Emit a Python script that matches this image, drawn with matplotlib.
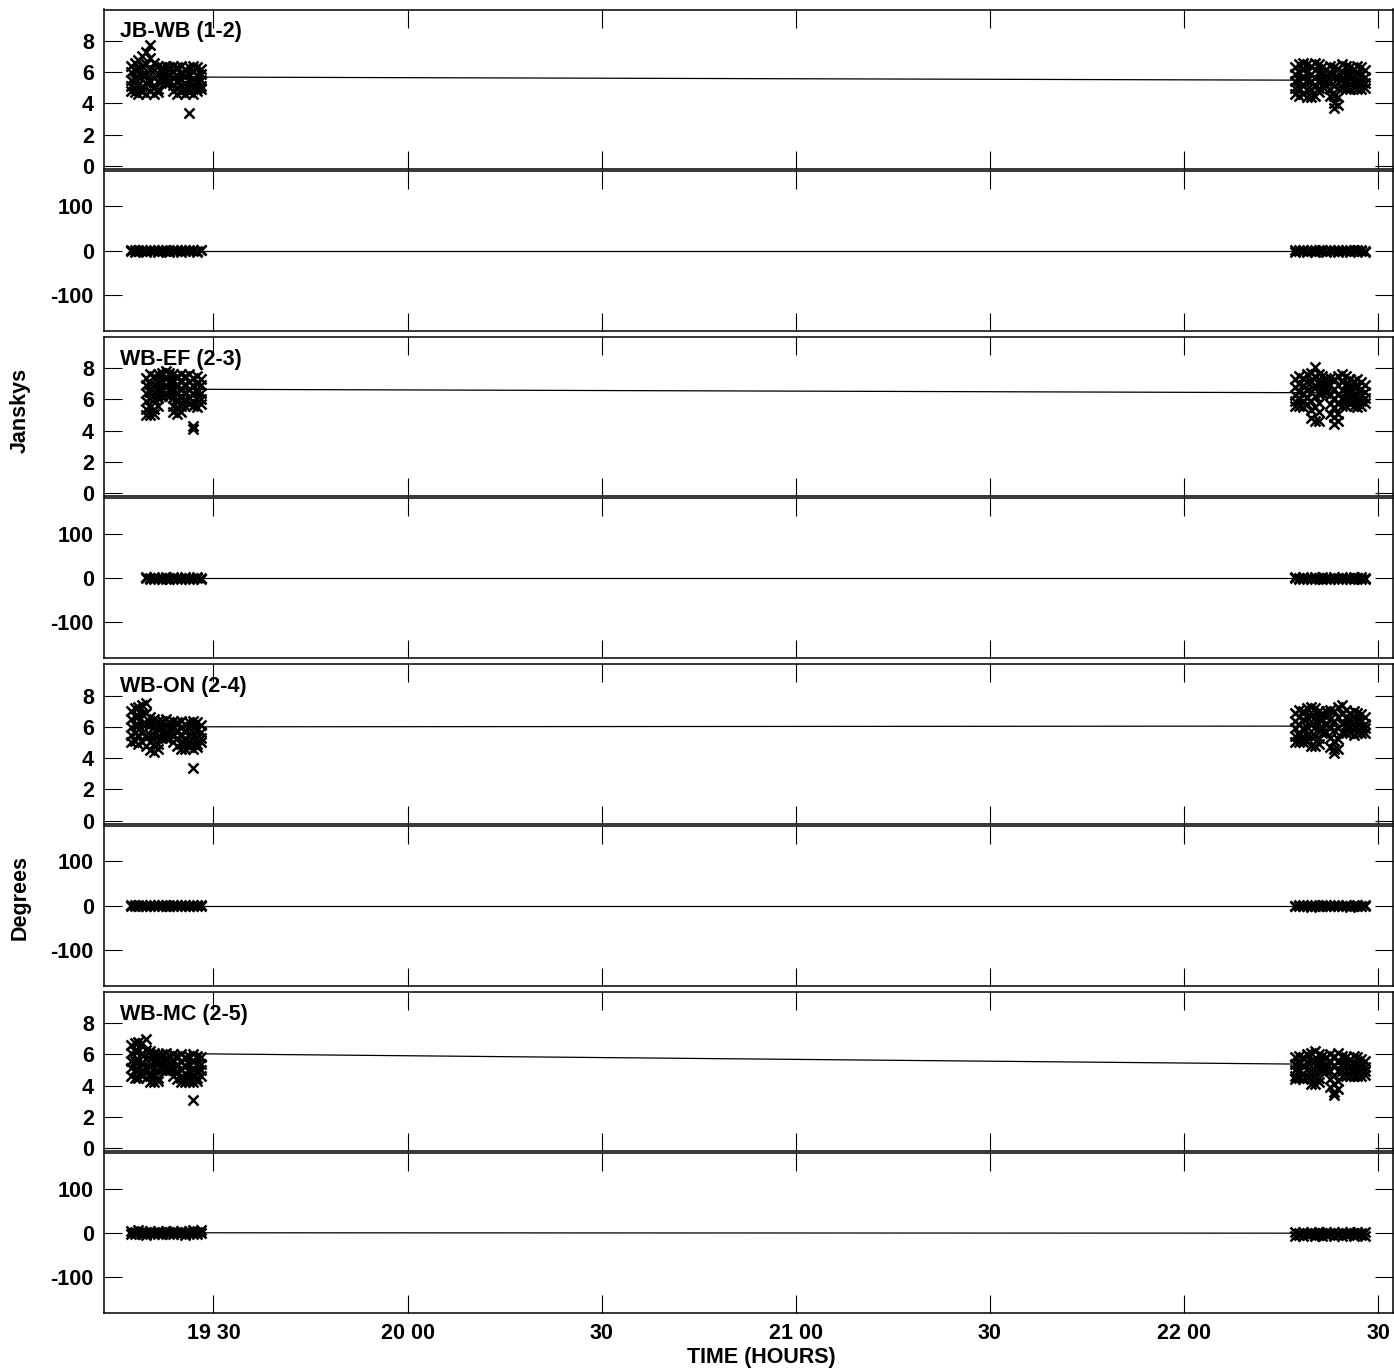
import matplotlib
matplotlib.use('Agg')
import matplotlib.pyplot as plt
from matplotlib.ticker import FixedLocator, FixedFormatter, NullFormatter

plt.rcParams['font.family'] = ['Liberation Sans', 'DejaVu Sans']
plt.rcParams['font.weight'] = 'bold'
plt.rcParams['axes.unicode_minus'] = False

# ---------------- data (time in minutes after 19:00 UT) ----------------
t_left = [17.2, 17.8, 18.4, 19.0, 19.6, 20.2, 20.8, 21.4, 22.0, 22.6,
          23.2, 23.8, 24.4, 25.0, 25.6, 26.2, 26.8, 27.4, 28.0]
t_right = [197.2, 197.8, 198.4, 199.0, 199.6, 200.2, 200.8, 201.4, 202.0, 202.6,
           203.2, 203.8, 204.4, 205.0, 205.6, 206.2, 206.8, 207.4, 208.0]
t_left_ef = [19.6, 20.2, 20.8, 21.4, 22.0, 22.6, 23.2, 23.8, 24.4, 25.0,
             25.6, 26.2, 26.8, 27.4, 28.0]

baselines = ["JB-WB (1-2)", "WB-EF (2-3)", "WB-ON (2-4)", "WB-MC (2-5)"]

jbwb_amp_L = [
    [6.4, 6.0, 5.5, 5.1, 4.8], [6.6, 6.1, 5.6, 5.0, 4.7], [6.8, 6.2, 5.7, 5.2, 4.6],
    [7.0, 6.4, 5.8, 5.1, 4.7], [7.3, 6.5, 5.9, 5.3, 4.6], [7.7, 6.9, 6.1, 5.4, 4.8],
    [6.6, 6.1, 5.6, 5.0, 4.6], [6.4, 5.9, 5.4, 4.9, 4.7], [6.3, 6.0, 5.7, 5.4],
    [6.4, 6.0, 5.6, 5.3], [6.3, 5.9, 5.5, 5.3], [6.4, 6.0, 5.6, 5.2, 4.8],
    [6.3, 5.8, 5.4, 5.0, 4.6], [6.4, 5.9, 5.5, 5.1, 4.7], [6.2, 5.8, 5.3, 4.9, 4.6],
    [6.3, 5.9, 5.4, 5.0, 4.7, 3.35], [6.4, 6.0, 5.5, 5.0, 4.6], [6.3, 5.8, 5.4, 5.0, 4.8],
    [6.2, 5.9, 5.5, 5.1, 4.9]]
jbwb_amp_R = [
    [6.3, 5.9, 5.4, 5.0, 4.6], [6.5, 6.0, 5.5, 5.0, 4.5], [6.6, 6.1, 5.6, 5.1, 4.6],
    [6.5, 6.0, 5.5, 4.9, 4.4], [6.4, 5.9, 5.4, 4.9, 4.4], [6.6, 6.1, 5.6, 5.1, 4.5],
    [6.5, 6.0, 5.5, 5.0, 4.7], [6.3, 5.9, 5.5, 5.1], [6.2, 5.8, 5.4, 5.1],
    [6.4, 5.9, 5.4, 4.9, 4.5], [6.3, 5.7, 5.1, 4.5, 4.0, 3.7], [6.2, 5.6, 5.0, 4.4, 3.9],
    [6.5, 6.0, 5.5, 5.0], [6.4, 5.9, 5.4, 4.9], [6.3, 5.8, 5.3, 4.9],
    [6.2, 5.8, 5.4, 5.0], [6.4, 5.9, 5.4, 4.9], [6.3, 5.8, 5.3, 4.9],
    [6.1, 5.7, 5.3, 5.0]]

wbef_amp_L = [
    [7.4, 6.9, 6.4, 5.9, 5.4, 5.0], [7.6, 7.0, 6.5, 6.0, 5.5, 5.0], [7.5, 7.0, 6.5, 6.0, 5.4, 5.1],
    [7.6, 7.1, 6.6, 6.1, 5.6], [7.7, 7.2, 6.7, 6.2], [7.8, 7.3, 6.8, 6.3],
    [7.7, 7.2, 6.7, 6.2], [7.6, 7.1, 6.6, 6.1, 5.6, 5.2], [7.5, 7.0, 6.5, 6.0, 5.5, 5.1],
    [7.6, 7.1, 6.6, 6.1, 5.6, 5.2], [7.5, 7.0, 6.5, 6.0, 5.6], [7.6, 7.1, 6.6, 6.1, 5.7],
    [7.4, 6.9, 6.4, 5.9, 5.6, 4.3, 4.1], [7.5, 7.0, 6.5, 6.0, 5.5], [7.3, 6.9, 6.4, 6.0, 5.7]]
wbef_amp_R = [
    [7.3, 6.8, 6.3, 5.9, 5.6], [7.5, 7.0, 6.5, 6.0, 5.6], [7.4, 6.9, 6.4, 5.9, 5.5],
    [7.6, 7.1, 6.6, 6.1, 5.7], [7.7, 7.1, 6.5, 5.9, 5.3, 4.8], [8.1, 7.5, 6.9, 6.2, 5.5, 4.6],
    [7.6, 7.0, 6.4, 5.8, 5.2, 4.6], [7.5, 7.1, 6.7, 6.4], [7.4, 7.0, 6.7, 6.4],
    [7.4, 6.9, 6.3, 5.7, 5.1], [7.3, 6.7, 6.1, 5.5, 4.9, 4.4], [7.5, 6.9, 6.3, 5.7, 5.1, 4.6],
    [7.6, 7.1, 6.6, 6.1, 5.6], [7.5, 7.0, 6.5, 6.0, 5.6], [7.3, 6.9, 6.4, 6.0, 5.7],
    [7.2, 6.8, 6.3, 5.9, 5.6], [7.3, 6.8, 6.3, 5.9, 5.5], [7.1, 6.7, 6.3, 5.9, 5.6],
    [6.9, 6.5, 6.1, 5.8]]

wbon_amp_L = [
    [7.0, 6.5, 6.0, 5.5, 5.0], [7.2, 6.7, 6.1, 5.6, 5.1], [7.3, 6.7, 6.1, 5.5, 4.9],
    [7.4, 6.8, 6.2, 5.6, 5.0], [7.5, 6.9, 6.2, 5.5, 4.8], [6.6, 6.1, 5.5, 5.0, 4.5],
    [6.5, 6.0, 5.5, 4.9, 4.4], [6.4, 5.9, 5.4, 4.9, 4.6], [6.4, 6.0, 5.6, 5.3],
    [6.5, 6.1, 5.7, 5.3], [6.3, 5.9, 5.6, 5.3], [6.4, 5.9, 5.4, 5.0],
    [6.3, 5.8, 5.3, 4.8], [6.4, 5.9, 5.4, 4.9, 4.6], [6.2, 5.8, 5.3, 4.9, 4.6],
    [6.3, 5.9, 5.4, 5.0, 4.7], [6.4, 5.9, 5.4, 4.9, 4.6, 3.4], [6.3, 5.8, 5.3, 4.9, 4.7],
    [6.1, 5.7, 5.3, 5.0]]
wbon_amp_R = [
    [6.9, 6.4, 5.9, 5.4, 5.0], [7.1, 6.6, 6.1, 5.5, 5.0], [7.0, 6.5, 5.9, 5.4, 5.0],
    [7.2, 6.6, 6.0, 5.5, 5.1], [7.3, 6.7, 6.1, 5.4, 4.8], [7.2, 6.6, 6.0, 5.4, 4.8],
    [7.0, 6.5, 5.9, 5.3, 4.9], [6.9, 6.5, 6.0, 5.6], [7.0, 6.6, 6.1, 5.7],
    [7.1, 6.5, 5.9, 5.3, 4.7], [7.0, 6.4, 5.8, 5.1, 4.6, 4.3], [7.3, 6.6, 5.9, 5.2, 4.6],
    [7.4, 6.8, 6.2, 5.7], [7.1, 6.6, 6.1, 5.6], [6.9, 6.5, 6.0, 5.6],
    [7.0, 6.5, 6.0, 5.5], [6.9, 6.4, 6.0, 5.6], [6.8, 6.4, 6.0, 5.6],
    [6.6, 6.2, 5.9, 5.6]]

wbmc_amp_L = [
    [6.6, 6.1, 5.6, 5.1, 4.6], [6.7, 6.2, 5.6, 5.0, 4.5], [6.8, 6.2, 5.6, 5.0, 4.5],
    [6.7, 6.1, 5.5, 5.0, 4.6], [7.0, 6.3, 5.7, 5.1, 4.5], [6.2, 5.7, 5.2, 4.7, 4.2],
    [6.1, 5.6, 5.1, 4.6, 4.2], [6.0, 5.5, 5.0, 4.5, 4.3], [6.0, 5.6, 5.3, 5.0],
    [6.1, 5.7, 5.3, 5.0], [5.9, 5.5, 5.2, 5.0], [6.0, 5.5, 5.0, 4.6],
    [5.9, 5.4, 4.9, 4.4], [6.0, 5.5, 5.0, 4.5, 4.2], [5.8, 5.3, 4.8, 4.4, 4.2],
    [5.9, 5.4, 4.9, 4.5, 4.2], [6.0, 5.5, 5.0, 4.5, 4.2, 3.1], [5.9, 5.4, 4.9, 4.5, 4.3],
    [5.8, 5.4, 5.0, 4.6]]
wbmc_amp_R = [
    [5.8, 5.4, 5.0, 4.6, 4.4], [5.9, 5.4, 4.9, 4.5], [5.8, 5.3, 4.8, 4.4],
    [6.0, 5.5, 5.0, 4.5], [6.1, 5.6, 5.0, 4.5, 4.1], [6.2, 5.6, 5.0, 4.5, 4.1],
    [6.0, 5.5, 5.0, 4.5, 4.2], [5.9, 5.5, 5.2, 5.0], [5.8, 5.4, 5.1, 4.9],
    [6.0, 5.5, 4.9, 4.4, 3.9], [5.9, 5.3, 4.7, 4.1, 3.6, 3.4], [6.1, 5.5, 4.9, 4.3, 3.8],
    [5.9, 5.4, 4.9, 4.6], [5.8, 5.3, 4.9, 4.6], [5.7, 5.3, 4.9, 4.6],
    [5.9, 5.4, 5.0, 4.6], [5.8, 5.3, 4.9, 4.6], [5.7, 5.3, 4.9, 4.6],
    [5.6, 5.2, 4.9, 4.7]]

jbwb_ph_L = [[2, -1], [1, -2], [2, 0], [1, -1], [0, -2], [2, -1], [1, -1], [1, -2], [2, 0], [1, -1],
             [0, -2], [1, -1], [2, 0], [1, -2], [1, -1], [2, 0], [1, -1], [0, -2], [2, 1]]
jbwb_ph_R = [[1, -2], [2, -1], [1, 0], [0, -2], [2, -1], [1, -2], [2, 0], [1, -1], [0, -2], [1, -1],
             [2, -1], [1, -2], [0, -1], [2, 0], [1, -2], [1, -1], [2, 0], [1, -1], [0, -2]]
wbef_ph_L = [[2, 0], [1, -1], [2, -1], [1, 0], [0, -2], [2, -1], [1, -1], [2, 0], [1, -2],
             [1, -1], [2, 0], [0, -1], [1, -2], [2, 0], [1, -1]]
wbef_ph_R = [[2, 0], [1, -2], [2, -1], [1, 0], [0, -1], [2, -2], [1, 0], [2, -1], [1, -1], [0, -2],
             [2, 0], [1, -1], [2, -1], [1, 0], [0, -2], [2, -1], [1, 0], [2, -1], [1, -1]]
wbon_ph_L = [[1, -1], [2, 0], [1, -2], [2, -1], [0, -1], [1, -2], [2, 0], [1, -1], [2, -1], [1, 0],
             [0, -2], [2, -1], [1, 0], [2, -2], [1, -1], [0, -1], [2, 0], [1, -2], [2, -1]]
wbon_ph_R = [[0, -2], [1, -1], [2, -2], [0, -1], [1, -3], [2, -1], [0, -2], [1, -1], [2, -2], [0, -1],
             [1, -2], [2, -1], [0, -2], [1, -1], [0, -3], [2, -1], [1, -2], [0, -1], [1, -2]]
wbmc_ph_L = [[5, -2], [3, -3], [6, 0], [4, -2], [2, -4], [5, -1], [3, -3], [4, -2], [2, -3], [5, -1],
             [3, -2], [4, -3], [2, -1], [5, -2], [3, -4], [4, -1], [6, -2], [3, -3], [7, 0]]
wbmc_ph_R = [[2, -6], [1, -4], [3, -7], [0, -5], [2, -3], [1, -6], [3, -4], [0, -7], [2, -5], [1, -3],
             [3, -6], [0, -4], [2, -7], [1, -5], [3, -3], [0, -6], [2, -4], [1, -5], [3, -7]]

model_t = [[17.2, 208.0], [19.6, 208.0], [17.2, 208.0], [17.2, 208.0]]
model_amp = [[5.69, 5.47], [6.66, 6.42], [6.00, 6.05], [6.07, 5.33]]
model_ph = [[0.0, 0.0], [0.0, 0.0], [0.0, 0.0], [0.5, -0.5]]

amp_sets = [(t_left, jbwb_amp_L, jbwb_amp_R), (t_left_ef, wbef_amp_L, wbef_amp_R),
            (t_left, wbon_amp_L, wbon_amp_R), (t_left, wbmc_amp_L, wbmc_amp_R)]
ph_sets = [(t_left, jbwb_ph_L, jbwb_ph_R), (t_left_ef, wbef_ph_L, wbef_ph_R),
           (t_left, wbon_ph_L, wbon_ph_R), (t_left, wbmc_ph_L, wbmc_ph_R)]

x_ticks = [30, 60, 90, 120, 150, 180, 210]
x_labels = ["19 30", "20 00", "30", "21 00", "30", "22 00", "30"]
amp_ticks = [0, 2, 4, 6, 8]
ph_ticks = [-100, 0, 100]


def flatten(tl, groups):
    xs, ys = [], []
    for t, vals in zip(tl, groups):
        for v in vals:
            xs.append(t)
            ys.append(v)
    return xs, ys


# ---------------- figure ----------------
W, H = 1394, 1371
fig = plt.figure(figsize=(W / 100, H / 100), dpi=100)
x0, x1 = 103.5, 1393
FS = 15.5


def style(ax, yticks, ylim, show_x):
    ax.set_xlim(13.0, 212.3)
    ax.set_ylim(*ylim)
    ax.xaxis.set_major_locator(FixedLocator(x_ticks))
    if show_x:
        ax.xaxis.set_major_formatter(FixedFormatter(x_labels))
    else:
        ax.xaxis.set_major_formatter(NullFormatter())
    ax.yaxis.set_major_locator(FixedLocator(yticks))
    ax.tick_params(direction='in', length=13, width=0.8, top=True, right=True,
                   labelsize=FS, pad=7, colors='black')
    for lab in ax.get_xticklabels() + ax.get_yticklabels():
        lab.set_fontweight('bold')
    for s in ax.spines.values():
        s.set_linewidth(1.1)


mk = dict(marker='x', linestyle='none', color='black', markersize=7.5, markeredgewidth=1.8)

for k in range(4):
    top = 9.5 + 327.4 * k
    ax_a = fig.add_axes([x0 / W, 1 - (top + 159.5) / H, (x1 - x0) / W, 159.5 / H])
    ax_p = fig.add_axes([x0 / W, 1 - (top + 321.5) / H, (x1 - x0) / W, 160 / H])

    tl, gl, gr = amp_sets[k]
    ax_a.plot(model_t[k], model_amp[k], color='black', lw=0.9)
    xs, ys = flatten(tl, gl)
    ax_a.plot(xs, ys, **mk)
    xs, ys = flatten(t_right, gr)
    ax_a.plot(xs, ys, **mk)
    style(ax_a, amp_ticks, (-0.2, 10.0), False)
    ax_a.annotate(baselines[k], xy=(0, 1), xycoords='axes fraction',
                  xytext=(17, -28), textcoords='offset pixels',
                  fontsize=FS, fontweight='bold', ha='left', va='baseline')

    tl, gl, gr = ph_sets[k]
    ax_p.plot(model_t[k], model_ph[k], color='black', lw=0.9)
    xs, ys = flatten(tl, gl)
    ax_p.plot(xs, ys, **mk)
    xs, ys = flatten(t_right, gr)
    ax_p.plot(xs, ys, **mk)
    style(ax_p, ph_ticks, (-181, 180), k == 3)

fig.text(20 / W, 1 - 410 / H, "Janskys", rotation=90, ha='center', va='center',
         fontsize=FS, fontweight='bold')
fig.text(20 / W, 1 - 897 / H, "Degrees", rotation=90, ha='center', va='center',
         fontsize=FS, fontweight='bold')
fig.text(761 / W, 1 - 1358 / H, "TIME (HOURS)", ha='center', va='center',
         fontsize=FS, fontweight='bold')

fig.savefig("out.png", dpi=100)
